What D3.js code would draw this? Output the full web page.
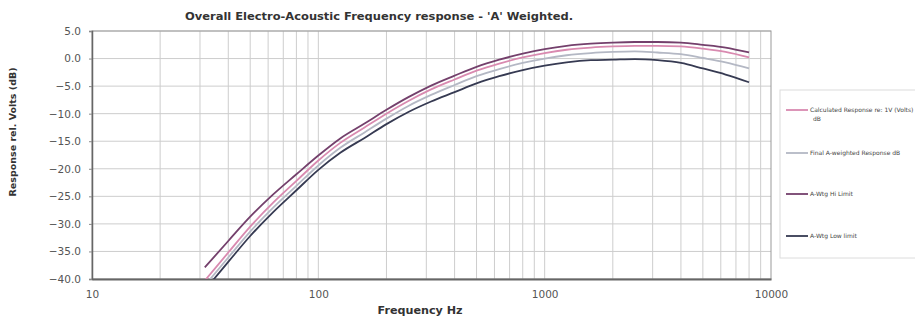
<!DOCTYPE html>
<html>
<head>
<meta charset="utf-8">
<script src="https://cdn.jsdelivr.net/npm/d3@7"></script>
<style>
  body { margin: 0; background: #fff; }
  text { font-family: "DejaVu Sans", Verdana, sans-serif; }
</style>
</head>
<body>
<svg id="chart" width="915" height="320"></svg>
<script>
// frequencies (Hz)
const freqs = [31.5, 40, 50, 63, 80, 100, 125, 160, 200, 250, 315, 400, 500, 630, 800,
  1000, 1250, 1600, 2000, 2500, 3150, 4000, 5000, 6300, 8000];

// series values (dB)
const calcResp = [-40.3, -35.2, -30.5, -26.2, -22.2, -18.5, -15.3, -12.5, -10.0, -7.7, -5.6, -3.8, -2.2, -0.9, 0.2,
  1.0, 1.6, 2.0, 2.2, 2.3, 2.3, 2.2, 1.8, 1.2, 0.2];
const finalResp = [-41.2, -36.1, -31.4, -27.1, -23.1, -19.4, -16.2, -13.4, -10.9, -8.6, -6.6, -4.8, -3.2, -1.9, -0.8,
  0.0, 0.6, 1.0, 1.2, 1.3, 1.1, 0.8, 0.1, -0.7, -1.8];
const wtgHi = [-37.9, -33.1, -28.7, -24.7, -21.0, -17.6, -14.5, -11.8, -9.3, -7.0, -4.9, -3.1, -1.5, -0.2, 0.9,
  1.7, 2.3, 2.7, 2.9, 3.0, 3.0, 2.9, 2.5, 2.0, 1.1];
const wtgLo = [-42.0, -36.9, -32.2, -27.9, -23.9, -20.2, -17.1, -14.4, -11.9, -9.7, -7.8, -6.1, -4.5, -3.2, -2.1,
  -1.3, -0.7, -0.3, -0.2, -0.1, -0.3, -0.8, -1.8, -2.9, -4.3];

const seriesNames = ["Calculated Response re: 1V (Volts)", "Final A-weighted Response dB", "A-Wtg Hi Limit", "A-Wtg Low limit"];
const yTicks = [5, 0, -5, -10, -15, -20, -25, -30, -35, -40];
const xTicks = [10, 100, 1000, 10000];

const series = [
  { name: seriesNames[0], values: calcResp, color: "#d98ab0" },
  { name: seriesNames[1], values: finalResp, color: "#b4b8c4" },
  { name: seriesNames[2], values: wtgHi, color: "#74406c" },
  { name: seriesNames[3], values: wtgLo, color: "#363a52" }
];

const margin = { top: 31, right: 144, bottom: 41, left: 92 };
const width = 915 - margin.left - margin.right;
const height = 320 - margin.top - margin.bottom;

const svg = d3.select("#chart");
const g = svg.append("g").attr("transform", `translate(${margin.left},${margin.top})`);

const x = d3.scaleLog().domain([10, 10000]).range([0, width]);
const y = d3.scaleLinear().domain([-40, 5]).range([height, 0]);

// minor + major vertical grid
const gridX = [];
for (let d = 10; d < 10000; d *= 10) {
  for (let k = 1; k < 10; k++) gridX.push(d * k);
}
g.append("g")
  .selectAll("line")
  .data(gridX.slice(1))
  .join("line")
  .attr("x1", d => x(d)).attr("x2", d => x(d))
  .attr("y1", 0).attr("y2", height)
  .attr("stroke", "#cdcdcd").attr("stroke-width", 1);

g.append("g")
  .selectAll("line")
  .data(yTicks.slice(0, -1))
  .join("line")
  .attr("x1", 0).attr("x2", width)
  .attr("y1", d => y(d)).attr("y2", d => y(d))
  .attr("stroke", "#cdcdcd").attr("stroke-width", 1);

// frame
g.append("rect")
  .attr("width", width).attr("height", height)
  .attr("fill", "none").attr("stroke", "#999").attr("stroke-width", 1);

// axes
const yAxis = g.append("g")
  .call(d3.axisLeft(y).tickValues(yTicks).tickFormat(d3.format(".1f")).tickSize(3));
yAxis.select(".domain").attr("stroke", "#666").attr("stroke-width", 1.5);
yAxis.selectAll("text").attr("font-size", 10.5).attr("fill", "#555").attr("x", -11);
yAxis.selectAll(".tick line").attr("stroke", "#888");

const xAxis = g.append("g")
  .attr("transform", `translate(0,${height})`)
  .call(d3.axisBottom(x).tickValues(xTicks).tickFormat(d3.format("d")).tickSize(0));
xAxis.select(".domain").attr("stroke", "#666").attr("stroke-width", 2);
xAxis.selectAll("text").attr("font-size", 10.5).attr("fill", "#555").attr("dy", "1.55em");

// curves
g.append("clipPath").attr("id", "plotclip")
  .append("rect").attr("width", width).attr("height", height);

const line = d3.line()
  .x((d, i) => x(freqs[i]))
  .y(d => y(d))
  .curve(d3.curveMonotoneX);

g.append("g").attr("clip-path", "url(#plotclip)")
  .selectAll("path")
  .data(series)
  .join("path")
  .attr("d", d => line(d.values))
  .attr("fill", "none")
  .attr("stroke", d => d.color)
  .attr("stroke-width", 1.8);

// titles
svg.append("text")
  .attr("x", 379).attr("y", 20)
  .attr("text-anchor", "middle")
  .attr("font-size", 10).attr("font-weight", "bold").attr("fill", "#333")
  .attr("textLength", 388).attr("lengthAdjust", "spacingAndGlyphs")
  .text("Overall Electro-Acoustic Frequency response - 'A' Weighted.");

svg.append("text")
  .attr("transform", "translate(16,132) rotate(-90)")
  .attr("text-anchor", "middle")
  .attr("font-size", 9.5).attr("font-weight", "bold").attr("fill", "#333")
  .text("Response rel. Volts (dB)");

svg.append("text")
  .attr("x", 420).attr("y", 314)
  .attr("text-anchor", "middle")
  .attr("font-size", 10).attr("font-weight", "bold").attr("fill", "#333")
  .attr("textLength", 85).attr("lengthAdjust", "spacingAndGlyphs")
  .text("Frequency Hz");

// legend
const legend = svg.append("g");
legend.append("rect")
  .attr("x", 780).attr("y", 90).attr("width", 140).attr("height", 168)
  .attr("fill", "#fff").attr("stroke", "#dcdcdc");

const legendY = [110, 153, 194, 236];
series.forEach((s, i) => {
  const ly = legendY[i];
  legend.append("line")
    .attr("x1", 786).attr("x2", 808).attr("y1", ly).attr("y2", ly)
    .attr("stroke", s.color).attr("stroke-width", 1.8);
  legend.append("text")
    .attr("x", 810).attr("y", ly + 2)
    .attr("font-size", 6).attr("fill", "#444")
    .text(s.name);
});
legend.append("text")
  .attr("x", 813).attr("y", 121)
  .attr("font-size", 6).attr("fill", "#444")
  .text("dB");
</script>
</body>
</html>
